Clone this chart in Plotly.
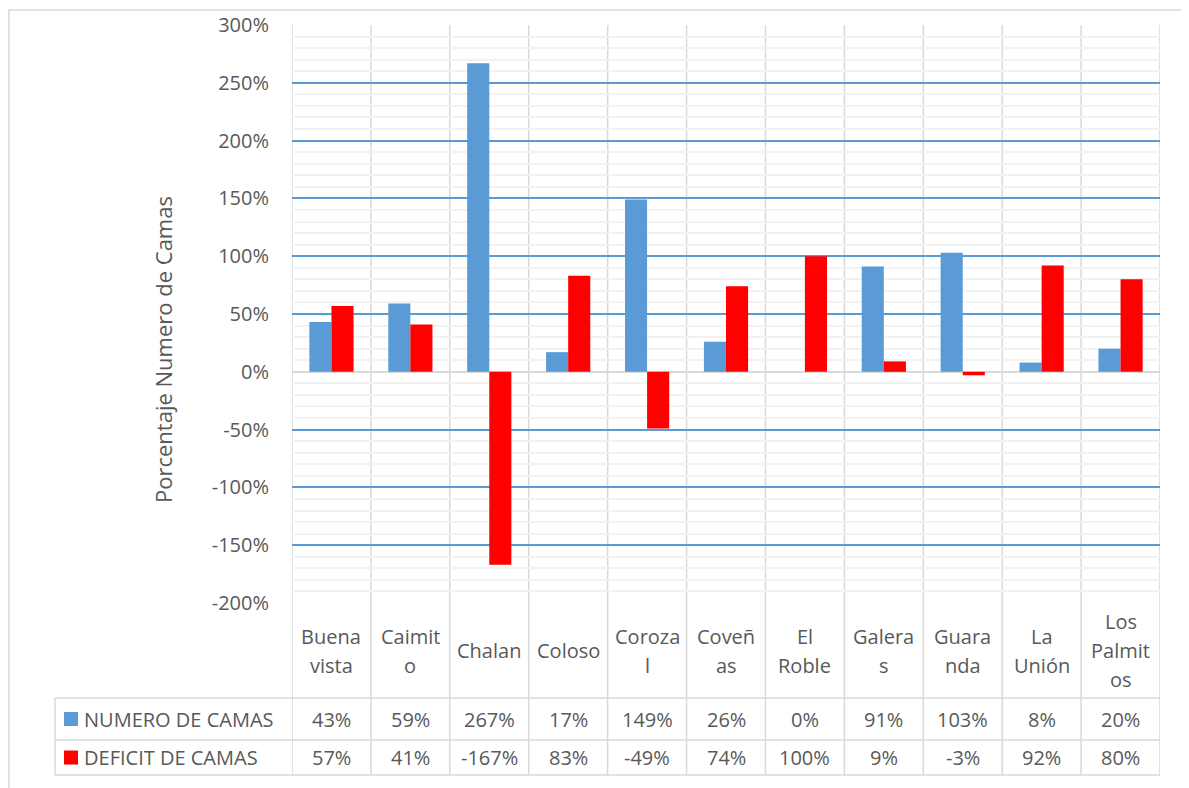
import plotly.graph_objects as go

# Data
categories = ["Buena vista", "Caimito", "Chalan", "Coloso", "Corozal", "Coveñas",
              "El Roble", "Galeras", "Guaranda", "La Unión", "Los Palmitos"]
# wrapped the way the data table shows them
category_labels = ["Buena<br>vista", "Caimit<br>o", "Chalan", "Coloso", "Coroza<br>l",
                   "Coveñ<br>as", "El<br>Roble", "Galera<br>s", "Guara<br>nda",
                   "La<br>Unión", "Los<br>Palmit<br>os"]
numero_camas = [0.43, 0.59, 2.67, 0.17, 1.49, 0.26, 0.00, 0.91, 1.03, 0.08, 0.20]
deficit_camas = [0.57, 0.41, -1.67, 0.83, -0.49, 0.74, 1.00, 0.09, -0.03, 0.92, 0.80]
series_names = ["NUMERO DE CAMAS", "DEFICIT DE CAMAS"]
y_ticks = [-2, -1.5, -1, -0.5, 0, 0.5, 1, 1.5, 2, 2.5, 3]

# Colours / fonts
BLUE = "#5B9BD5"
RED = "#FF0000"
TXT = "#595959"
LINE = "#D9D9D9"
FONT = "Open Sans"

# page body has an 8px margin, so work in page pixels and shift
OFF = 8
W, H = 1189 - OFF, 788 - OFF
L, R, T, B = 292 - OFF, 1160 - OFF, 25 - OFF, 603 - OFF
row_y = [603, 698, 740, 775]   # table row boundaries (page px)
table_left = 55


def px_x(x):
    return (x - OFF - L) / (R - L)


def px_y(y):
    return (B - (y - OFF)) / (B - T)


x_idx = list(range(len(categories)))

fig = go.Figure()
fig.add_trace(go.Bar(x=x_idx, y=numero_camas, name=series_names[0],
                     marker=dict(color=BLUE, line=dict(width=0))))
fig.add_trace(go.Bar(x=x_idx, y=deficit_camas, name=series_names[1],
                     marker=dict(color=RED, line=dict(width=0))))

shapes = []
# vertical category separators through plot and table
for i in range(len(categories) + 1):
    shapes.append(dict(type="line", xref="x", yref="paper", x0=i - 0.5, x1=i - 0.5,
                       y0=px_y(row_y[-1]), y1=1, line=dict(color=LINE, width=1.5), layer="below"))
# table horizontal lines
for yy in row_y[1:]:
    shapes.append(dict(type="line", xref="paper", yref="paper", x0=px_x(table_left), x1=1,
                       y0=px_y(yy), y1=px_y(yy), line=dict(color=LINE, width=1.5)))
# left column vertical line of data rows
shapes.append(dict(type="line", xref="paper", yref="paper", x0=px_x(table_left), x1=px_x(table_left),
                   y0=px_y(row_y[1]), y1=px_y(row_y[3]), line=dict(color=LINE, width=1.5)))
# legend keys
for k, col in enumerate([BLUE, RED]):
    yc = (row_y[k + 1] + row_y[k + 2]) / 2
    shapes.append(dict(type="rect", xref="paper", yref="paper",
                       x0=px_x(64), x1=px_x(78), y0=px_y(yc - 7), y1=px_y(yc + 7),
                       fillcolor=col, line=dict(width=0)))
# outer chart border
shapes.append(dict(type="rect", xref="paper", yref="paper",
                   x0=px_x(9), x1=px_x(1187), y0=px_y(800), y1=px_y(10),
                   line=dict(color=LINE, width=1.5), layer="above"))

annotations = []
# category row, one annotation per wrapped line
row_c = (row_y[0] + row_y[1]) / 2
for i, lab in enumerate(category_labels):
    parts = lab.split("<br>")
    for j, part in enumerate(parts):
        yc = row_c + (j - (len(parts) - 1) / 2) * 29
        annotations.append(dict(x=i, xref="x", y=px_y(yc), yref="paper",
                                text=part, showarrow=False, xanchor="center", yanchor="middle",
                                font=dict(family=FONT, size=20, color=TXT)))
# value rows
for k, vals in enumerate([numero_camas, deficit_camas]):
    yc = (row_y[k + 1] + row_y[k + 2]) / 2
    for i, v in enumerate(vals):
        annotations.append(dict(x=i, xref="x", y=px_y(yc), yref="paper",
                                text=f"{round(v * 100)}%", showarrow=False,
                                xanchor="center", yanchor="middle",
                                font=dict(family=FONT, size=20, color=TXT)))
    annotations.append(dict(x=px_x(82), xref="paper", y=px_y(yc), yref="paper",
                            text=series_names[k], showarrow=False,
                            xanchor="left", yanchor="middle",
                            font=dict(family=FONT, size=20, color=TXT)))
# y axis title
annotations.append(dict(x=px_x(163), xref="paper", y=px_y(350), yref="paper",
                        text="Porcentaje Numero de Camas", textangle=-90, showarrow=False,
                        xanchor="center", yanchor="middle",
                        font=dict(family=FONT, size=22, color=TXT)))

fig.update_layout(
    width=W, height=H,
    margin=dict(l=L, r=W - R, t=T, b=H - B, autoexpand=False),
    paper_bgcolor="white", plot_bgcolor="white",
    barmode="group", bargap=0.44, bargroupgap=0,
    showlegend=False,
    shapes=shapes, annotations=annotations,
    xaxis=dict(range=[-0.5, len(categories) - 0.5], showticklabels=False,
               showgrid=False, zeroline=False, showline=False, fixedrange=True),
    yaxis=dict(range=[-2, 3], tickvals=y_ticks,
               ticktext=[f"{round(v * 100)}%" for v in y_ticks],
               showgrid=True, gridcolor=BLUE, gridwidth=1.5,
               zeroline=True, zerolinecolor=LINE, zerolinewidth=2,
               showline=False, ticks="", ticklabelstandoff=22,
               tickfont=dict(family=FONT, size=20, color=TXT),
               minor=dict(dtick=0.1, showgrid=True, gridcolor="#F2F2F2", gridwidth=1.5)),
)

fig.write_html("out.html")
